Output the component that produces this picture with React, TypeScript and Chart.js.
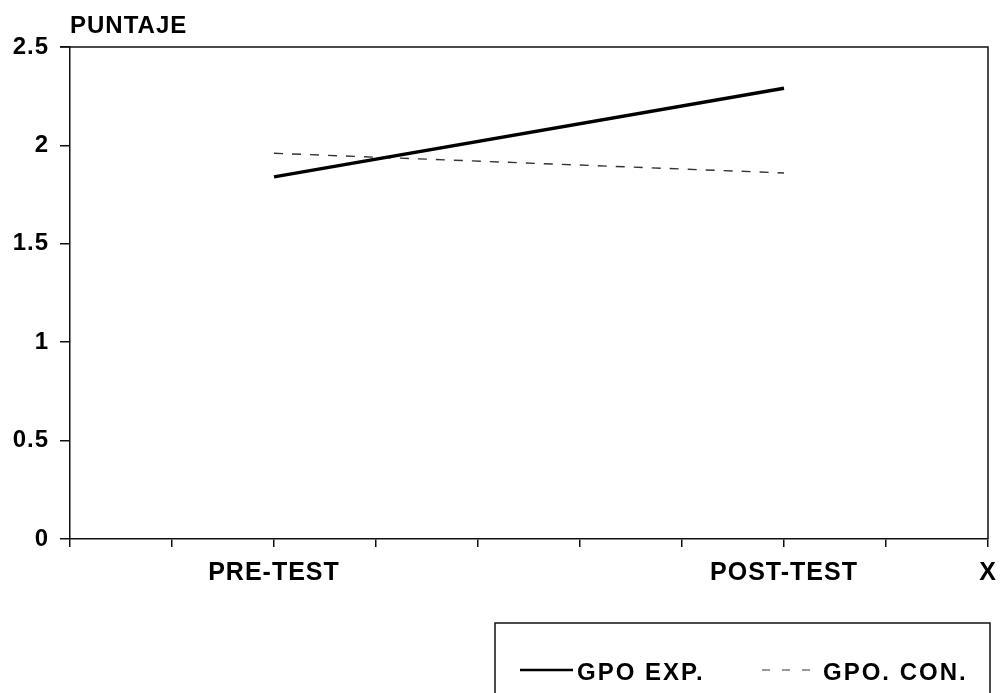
import React, { useEffect, useRef } from "react";
import { Chart, registerables } from "chart.js";

Chart.register(...registerables);

const xPositions = [2, 7];
const tickLabels: Record<number, string> = { 2: "PRE-TEST", 7: "POST-TEST", 9: "X" };
const expValues = [1.84, 2.29];
const conValues = [1.96, 1.86];
const seriesNames = ["GPO EXP.", "GPO. CON."];
const yTitle = "PUNTAJE";

const FONT = "'Liberation Sans', Arial, Helvetica, sans-serif";

export default function App() {
  const ref = useRef<HTMLCanvasElement | null>(null);

  useEffect(() => {
    if (!ref.current) return;
    const framePlugin = {
      id: "frame",
      beforeDraw(chart: any) {
        chart.ctx.letterSpacing = "1px";
      },
      afterDraw(chart: any) {
        const { ctx, chartArea } = chart;
        const { left, right, top, bottom } = chartArea;
        ctx.save();
        ctx.strokeStyle = "#111";
        ctx.lineWidth = 1.5;
        ctx.beginPath();
        ctx.moveTo(left - 10, top);
        ctx.lineTo(right, top);
        ctx.lineTo(right, bottom);
        ctx.stroke();
        // y title
        ctx.fillStyle = "#000";
        ctx.font = `bold 24px ${FONT}`;
        ctx.textBaseline = "alphabetic";
        ctx.textAlign = "left";
        ctx.fillText(yTitle, left, 33);
        // legend box
        const bx = 495, by = 623, bw = 495, bh = 100;
        ctx.lineWidth = 1.5;
        ctx.strokeRect(bx, by, bw, bh);
        const ds = chart.data.datasets;
        const items = [
          { x1: 520, x2: 573, tx: 577 },
          { x1: 762, x2: 820, tx: 823 },
        ];
        items.forEach((it, i) => {
          const d = ds[i];
          ctx.strokeStyle = d.borderColor;
          ctx.lineWidth = i === 0 ? 2.5 : 1.2;
          ctx.setLineDash(i === 0 ? [] : [8, 12]);
          ctx.beginPath();
          ctx.moveTo(it.x1, 670);
          ctx.lineTo(it.x2, 670);
          ctx.stroke();
          ctx.setLineDash([]);
          ctx.fillStyle = "#000";
          ctx.font = `bold 24px ${FONT}`;
          ctx.letterSpacing = "2px";
          ctx.textBaseline = "middle";
          ctx.textAlign = "left";
          ctx.fillText(d.label, it.tx, 673);
        });
        ctx.restore();
      },
    };

    const chart = new Chart(ref.current, {
      type: "line",
      data: {
        datasets: [
          {
            label: seriesNames[0],
            data: xPositions.map((x, i) => ({ x, y: expValues[i] })),
            borderColor: "#000",
            borderWidth: 3.5,
            pointRadius: 0,
            fill: false,
          },
          {
            label: seriesNames[1],
            data: xPositions.map((x, i) => ({ x, y: conValues[i] })),
            borderColor: "#333",
            borderWidth: 1.4,
            borderDash: [9, 9],
            pointRadius: 0,
            fill: false,
          },
        ],
      },
      options: {
        animation: false,
        responsive: false,
        layout: { padding: { left: 0, right: 12, top: 47, bottom: 0 } },
        plugins: { legend: { display: false }, tooltip: { enabled: false } },
        scales: {
          x: {
            type: "linear",
            min: 0,
            max: 9,
            afterFit(scale: any) {
              scale.height = 693 - 539;
              scale.paddingLeft = 0;
              scale.paddingRight = 0;
            },
            afterBuildTicks(scale: any) {
              scale.ticks = Array.from({ length: 10 }, (_, i) => ({ value: i }));
            },
            ticks: {
              autoSkip: false,
              maxRotation: 0,
              padding: 11,
              color: "#000",
              font: { family: FONT, size: 25, weight: "bold" },
              callback: (v: any) => tickLabels[Number(v)] ?? "",
            },
            grid: {
              drawOnChartArea: false,
              drawTicks: true,
              tickLength: 8,
              color: "#111",
              lineWidth: 1.5,
            },
            border: { display: true, color: "#111", width: 1.5 },
          },
          y: {
            min: 0,
            max: 2.5,
            afterFit(scale: any) {
              scale.width = 70;
            },
            ticks: {
              stepSize: 0.5,
              padding: 11,
              color: "#000",
              font: { family: FONT, size: 24, weight: "bold" },
              callback: (v: any) => String(Number(v)),
            },
            grid: {
              drawOnChartArea: false,
              drawTicks: true,
              tickLength: 10,
              color: "#111",
              lineWidth: 1.5,
            },
            border: { display: true, color: "#111", width: 1.5 },
          },
        },
      },
      plugins: [framePlugin],
    } as any);
    return () => chart.destroy();
  }, []);

  return (
    <div style={{ position: "fixed", left: 0, top: 0, width: 1000, height: 693, background: "#fff" }}>
      <canvas ref={ref} width={1000} height={693} style={{ width: 1000, height: 693 }} />
    </div>
  );
}
